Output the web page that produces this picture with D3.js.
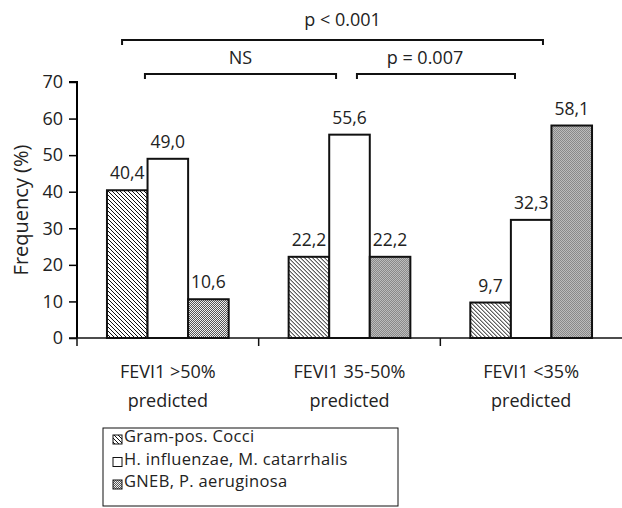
<!DOCTYPE html>
<html>
<head>
<meta charset="utf-8">
<script src="https://cdn.jsdelivr.net/npm/d3@7"></script>
<style>
  body { margin: 0; background: #fff; }
  text { font-family: "Open Sans", "Noto Sans", sans-serif; fill: #222; }
</style>
</head>
<body>
<div id="chart"></div>
<script>
const categories = ["FEVI1 >50%|predicted", "FEVI1 35-50%|predicted", "FEVI1 <35%|predicted"];
const series = ["Gram-pos. Cocci", "H. influenzae, M. catarrhalis", "GNEB, P. aeruginosa"];
const gramPos = [40.4, 22.2, 9.7];
const hInfl = [49.0, 55.6, 32.3];
const gneb = [10.6, 22.2, 58.1];
const yTicks = [0, 10, 20, 30, 40, 50, 60, 70];
// significance brackets between categories
const bracketLabels = ["p < 0.001", "NS", "p = 0.007"];
const bracketFrom = [0, 0, 1];
const bracketTo = [2, 1, 2];

const width = 622, height = 508;
const margin = { top: 82, right: 0, bottom: 170, left: 77 };

const svg = d3.select("#chart").append("svg")
  .attr("width", width).attr("height", height);

const defs = svg.append("defs");
// hatched pattern, lines running top-left to bottom-right
const hatch = defs.append("pattern").attr("id", "hatch")
  .attr("patternUnits", "userSpaceOnUse").attr("width", 4).attr("height", 4);
hatch.append("rect").attr("width", 4).attr("height", 4).attr("fill", "#fff");
hatch.append("path").attr("d", "M-1,-1 L5,5 M-1,3 L1,5 M3,-1 L5,1")
  .attr("stroke", "#111").attr("stroke-width", 1);
// fine checker dots
const dots = defs.append("pattern").attr("id", "dots")
  .attr("patternUnits", "userSpaceOnUse").attr("width", 2).attr("height", 2);
dots.append("rect").attr("width", 2).attr("height", 2).attr("fill", "#f0f0f0");
dots.append("rect").attr("width", 1).attr("height", 1).attr("fill", "#555");
dots.append("rect").attr("x", 1).attr("y", 1).attr("width", 1).attr("height", 1).attr("fill", "#555");

const fills = ["url(#hatch)", "#fff", "url(#dots)"];

const y = d3.scaleLinear().domain([0, 70]).range([height - margin.bottom, margin.top]);
const x0 = d3.scaleBand().domain(categories).range([margin.left, width]);
const bw = x0.bandwidth();
const x1 = d3.scaleBand().domain(series).range([bw * 0.165, bw * 0.835]);

const data = categories.map((c, i) => ({
  cat: c,
  vals: [gramPos[i], hInfl[i], gneb[i]].map((v, j) => ({ s: series[j], v, j }))
}));

// y axis
const yAxis = svg.append("g").attr("transform", `translate(${margin.left},0)`)
  .call(d3.axisLeft(y).tickValues(yTicks).tickSize(8).tickPadding(6));
yAxis.select(".domain").attr("stroke-width", 2).attr("d", `M-8,${y(70)}H0V${y(0)}`);
yAxis.selectAll(".tick line").attr("stroke-width", 1.5);
yAxis.selectAll(".tick text").style("font-size", "18px").attr("fill", "#222");

// x axis line with category separators
const xAxis = svg.append("g");
xAxis.append("line").attr("x1", margin.left - 8).attr("x2", width)
  .attr("y1", y(0)).attr("y2", y(0)).attr("stroke", "#111").attr("stroke-width", 1.5);
xAxis.selectAll(".sep").data(categories).enter().append("line")
  .attr("x1", d => x0(d)).attr("x2", d => x0(d))
  .attr("y1", y(0)).attr("y2", y(0) + 8).attr("stroke", "#111").attr("stroke-width", 1.5);

// category labels (two lines)
const catLab = svg.selectAll(".cat").data(categories).enter().append("text")
  .attr("text-anchor", "middle").style("font-size", "18px");
catLab.append("tspan").attr("y", y(0) + 40).attr("x", d => x0(d) + bw / 2).text(d => d.split("|")[0]);
catLab.append("tspan").attr("y", y(0) + 69).attr("x", d => x0(d) + bw / 2).text(d => d.split("|")[1]);

// bars
const g = svg.selectAll(".grp").data(data).enter().append("g")
  .attr("transform", d => `translate(${x0(d.cat)},0)`);
g.selectAll("rect").data(d => d.vals).enter().append("rect")
  .attr("x", d => x1(d.s)).attr("width", x1.bandwidth())
  .attr("y", d => y(d.v)).attr("height", d => y(0) - y(d.v))
  .attr("fill", d => fills[d.j]).attr("stroke", "#111").attr("stroke-width", 2);
g.selectAll(".val").data(d => d.vals).enter().append("text")
  .attr("text-anchor", "middle").style("font-size", "17.5px")
  .attr("x", d => x1(d.s) + x1.bandwidth() / 2)
  .attr("y", d => y(d.v) - 11)
  .text(d => d3.format(".1f")(d.v).replace(".", ","));

// y label
svg.append("text").attr("transform", `translate(28,${(y(0) + y(70)) / 2}) rotate(-90)`)
  .attr("text-anchor", "middle").style("font-size", "20px").text("Frequency (%)");

// brackets: start/end as fractions of the category band
const bStart = [0.248, 0.374, 0.541];
const bEnd = [0.565, 0.426, 0.411];
const bLevelY = [40, 74];
const bTextDx = [10, 0, -11];
bracketLabels.forEach((lab, i) => {
  const xa = x0(categories[bracketFrom[i]]) + bw * bStart[i];
  const xb = x0(categories[bracketTo[i]]) + bw * bEnd[i];
  const by = bLevelY[i === 0 ? 0 : 1];
  svg.append("path").attr("d", `M${xa},${by + 5}V${by}H${xb}V${by + 5}`)
    .attr("fill", "none").attr("stroke", "#111").attr("stroke-width", 2);
  svg.append("text").attr("x", (xa + xb) / 2 + bTextDx[i]).attr("y", by - (i === 0 ? 14 : 10))
    .attr("text-anchor", "middle").style("font-size", "18px").text(lab);
});

// legend
const lg = svg.append("g").attr("transform", "translate(103,428)");
lg.append("rect").attr("width", 295).attr("height", 78)
  .attr("fill", "#fff").attr("stroke", "#111").attr("stroke-width", 1);
series.forEach((s, i) => {
  const base = 14 + i * 22.5;
  lg.append("rect").attr("x", 10).attr("y", base - 7).attr("width", 9).attr("height", 9)
    .attr("fill", fills[i]).attr("stroke", "#111").attr("stroke-width", 1);
  lg.append("text").attr("x", 21).attr("y", base).style("font-size", "16.5px")
    .style("letter-spacing", "0.35px").text(s);
});
</script>
</body>
</html>
